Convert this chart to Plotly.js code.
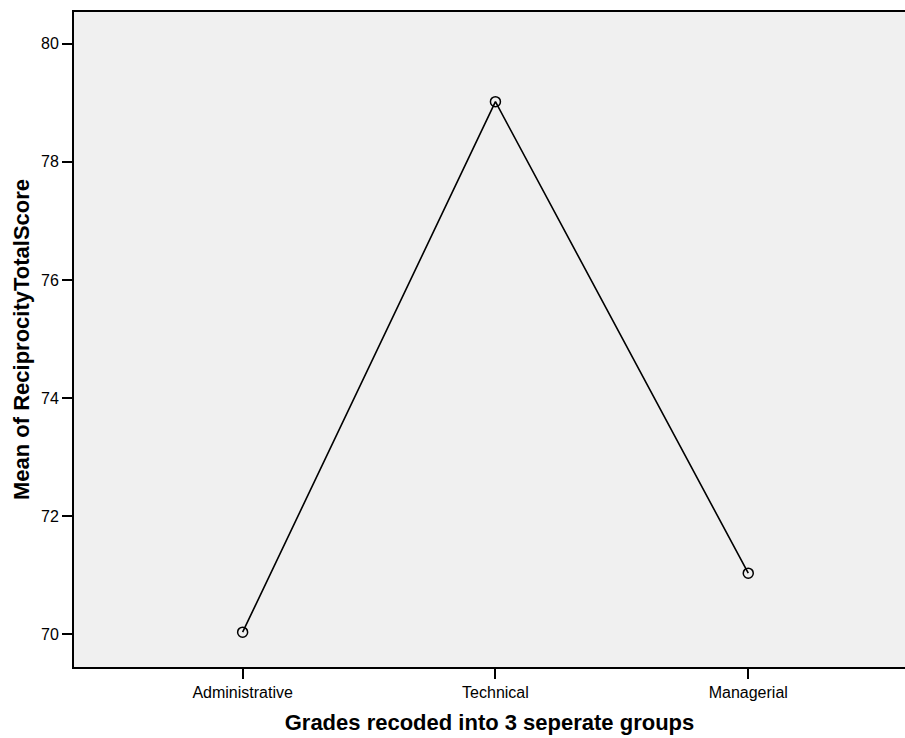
<!DOCTYPE html>
<html>
<head>
<meta charset="utf-8">
<script src="https://cdn.plot.ly/plotly-3.0.1.min.js"></script>
<style>html,body{margin:0;padding:0;background:#fff;}#chart{width:905px;height:738px;}</style>
</head>
<body>
<div id="chart"></div>
<script>
const categories = ["Administrative", "Technical", "Managerial"];
const meanValues = [70.03, 79.02, 71.03];
const yTickValues = [70, 72, 74, 76, 78, 80];

const trace = {
  x: [0, 1, 2],
  y: meanValues,
  type: "scatter",
  mode: "lines+markers",
  line: {color: "#000000", width: 1.6},
  marker: {symbol: "circle-open", size: 10, color: "#000000", line: {width: 1.5, color: "#000000"}},
  hoverinfo: "none"
};

const layout = {
  width: 905, height: 738,
  margin: {l: 74, r: 0, t: 12, b: 71},
  paper_bgcolor: "#ffffff",
  plot_bgcolor: "#f0f0f0",
  showlegend: false,
  font: {family: "Liberation Sans, Arial, sans-serif", color: "#000000"},
  xaxis: {
    range: [-0.667, 2.62],
    tickmode: "array",
    tickvals: [0, 1, 2],
    ticktext: categories,
    ticks: "outside", ticklen: 10, tickwidth: 2, tickcolor: "#000",
    showline: true, linecolor: "#000", linewidth: 2, mirror: true,
    showgrid: false, zeroline: false,
    tickfont: {size: 16, color: "#000"},
    title: {text: "Grades recoded into 3 seperate groups", font: {size: 22, color: "#000", family: "Liberation Sans, Arial, sans-serif", weight: "bold"}, standoff: 14}
  },
  yaxis: {
    range: [69.44, 80.54],
    tickmode: "array",
    tickvals: yTickValues,
    ticktext: yTickValues.map(String),
    ticks: "outside", ticklen: 10, tickwidth: 2, tickcolor: "#000",
    showline: true, linecolor: "#000", linewidth: 2,
    showgrid: false, zeroline: false,
    tickfont: {size: 16, color: "#000"},
    title: {text: "Mean of ReciprocityTotalScore", font: {size: 22, color: "#000", family: "Liberation Sans, Arial, sans-serif", weight: "bold"}, standoff: 5}
  }
};

Plotly.newPlot("chart", [trace], layout, {displayModeBar: false, staticPlot: true});
</script>
</body>
</html>
